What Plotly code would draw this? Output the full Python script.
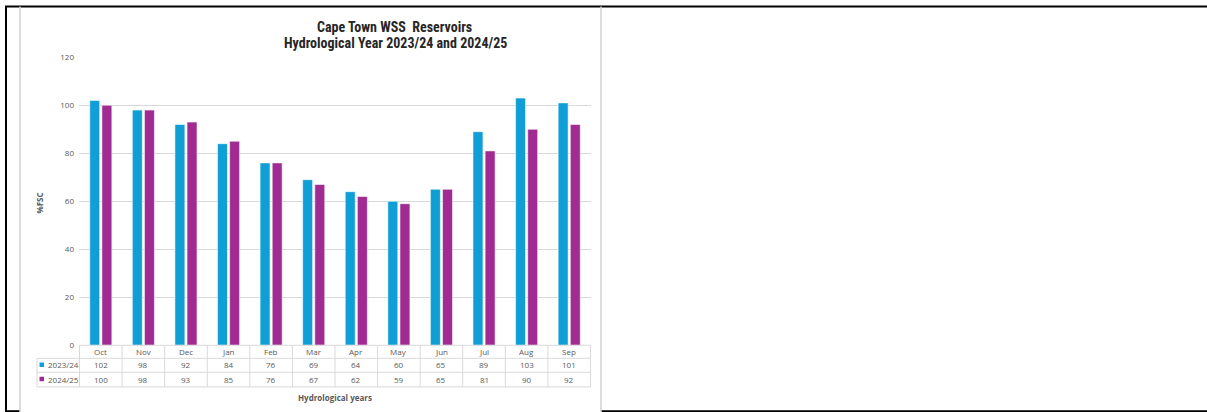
import plotly.graph_objects as go

# Reservoir storage (%FSC) per month of the hydrological year
months = ["Oct", "Nov", "Dec", "Jan", "Feb", "Mar", "Apr", "May", "Jun", "Jul", "Aug", "Sep"]
year_2023_24 = [102, 98, 92, 84, 76, 69, 64, 60, 65, 89, 103, 101]
year_2024_25 = [100, 98, 93, 85, 76, 67, 62, 59, 65, 81, 90, 92]
series_names = ["2023/24", "2024/25"]
y_ticks = [0, 20, 40, 60, 80, 100, 120]

W, H = 1207, 418
# vertical placement: page offset and scale of the figure in the final view
V_OFF, V_SCALE = 5.8, 0.972
BLUE = "#0F9ED5"
PURPLE = "#A02B93"
GRID = "#D9D9D9"
TXT = "#595959"
BODY_FONT = "Open Sans, Roboto, sans-serif"
TITLE_FONT = "Liberation Sans Narrow, Roboto Condensed, Arial Narrow, sans-serif"

# pixel layout of the plotting area (view pixels)
PX_L, PX_R = 79, 591
PY_T, PY_B = 57, 344.5


def px(x):
    return x / W


def py(y):
    return 1 - ((y - V_OFF) / V_SCALE) / H


def label(x, y, text, xref="paper", size=8, color=TXT, family=BODY_FONT, xanchor="center", **kw):
    return dict(x=x, y=y, xref=xref, yref="paper", text=text, showarrow=False,
                xanchor=xanchor, yanchor="middle",
                font=dict(family=family, size=size, color=color), **kw)


fig = go.Figure()
for name, vals, col in [(series_names[0], year_2023_24, BLUE), (series_names[1], year_2024_25, PURPLE)]:
    fig.add_trace(go.Bar(
        x=months, y=vals, name=name,
        marker=dict(color=col, line=dict(color="rgba(255,255,255,0.55)", width=1)),
        showlegend=False,
    ))

shapes = []
annotations = []

# outer black frame
TOP, BOT = 6.3, 410.3
for x0, y0, x1, y1, w in [
    (5, TOP, W + 2, TOP, 2),
    (6, TOP, 6, BOT, 2),
    (5, BOT, 20, BOT, 2),
    (601, BOT, W + 2, BOT, 2),
]:
    shapes.append(dict(type="line", xref="paper", yref="paper",
                       x0=px(x0), y0=py(y0), x1=px(x1), y1=py(y1),
                       line=dict(color="#000000", width=w)))
# chart panel borders
for x in (20, 601):
    shapes.append(dict(type="line", xref="paper", yref="paper",
                       x0=px(x), y0=py(TOP), x1=px(x), y1=0,
                       line=dict(color="#D0D0D0", width=1.5)))

# data table under the axis
ROW_TOP = [PY_B, 357.5, 371.5, 386]
TABLE_L = 37
shapes.append(dict(type="line", xref="paper", yref="paper",
                   x0=px(PX_L), y0=py(ROW_TOP[0]), x1=px(PX_R), y1=py(ROW_TOP[0]),
                   line=dict(color=GRID, width=1)))
for yy in ROW_TOP[1:]:
    shapes.append(dict(type="line", xref="paper", yref="paper",
                       x0=px(TABLE_L), y0=py(yy), x1=px(PX_R), y1=py(yy),
                       line=dict(color=GRID, width=1)))
shapes.append(dict(type="line", xref="paper", yref="paper",
                   x0=px(TABLE_L), y0=py(ROW_TOP[1]), x1=px(TABLE_L), y1=py(ROW_TOP[3]),
                   line=dict(color=GRID, width=1)))
for i in range(len(months) + 1):
    shapes.append(dict(type="line", xref="x", yref="paper",
                       x0=i - 0.5, x1=i - 0.5, y0=py(ROW_TOP[0]), y1=py(ROW_TOP[3]),
                       line=dict(color=GRID, width=1)))

row_mid = [350.3, 364, 378.2]
for m in months:
    annotations.append(label(m, py(row_mid[0]), m, xref="x"))
for r, (name, vals, col) in enumerate([(series_names[0], year_2023_24, BLUE),
                                       (series_names[1], year_2024_25, PURPLE)]):
    yy = row_mid[r + 1]
    for m, v in zip(months, vals):
        annotations.append(label(m, py(yy), str(v), xref="x"))
    shapes.append(dict(type="rect", xref="paper", yref="paper",
                       x0=px(39.5), x1=px(44), y0=py(yy - 2.3), y1=py(yy + 2.2),
                       fillcolor=col, line=dict(width=0)))
    annotations.append(label(px(45.5), py(yy), name, xanchor="left"))

# titles
annotations.append(label(px(394), py(26.5), "<b>Cape Town WSS\u00a0\u00a0Reservoirs</b>",
                         size=14, color="#262626", family=TITLE_FONT))
annotations.append(label(px(396), py(42.5), "<b>Hydrological Year 2023/24 and 2024/25</b>",
                         size=14, color="#262626", family=TITLE_FONT))
annotations.append(label(px(40), py(203), "<b>%FSC</b>", textangle=-90))
annotations.append(label(px(335), py(396.5), "<b>Hydrological years</b>"))

fig.update_layout(
    width=W, height=H,
    margin=dict(l=0, r=0, t=0, b=0),
    paper_bgcolor="white", plot_bgcolor="white",
    barmode="group", bargap=0.43, bargroupgap=0.18,
    xaxis=dict(domain=[px(PX_L), px(PX_R)], showticklabels=False, showgrid=False,
               zeroline=False, showline=False, ticks="", fixedrange=True),
    yaxis=dict(domain=[py(PY_B), py(PY_T)], range=[0, 120], tickvals=y_ticks,
               showgrid=True, gridcolor=GRID, gridwidth=1, zeroline=False, showline=False,
               ticks="", ticklabelstandoff=4,
               tickfont=dict(family=BODY_FONT, size=8, color=TXT)),
    shapes=shapes, annotations=annotations,
)

fig.write_html("out.html")
